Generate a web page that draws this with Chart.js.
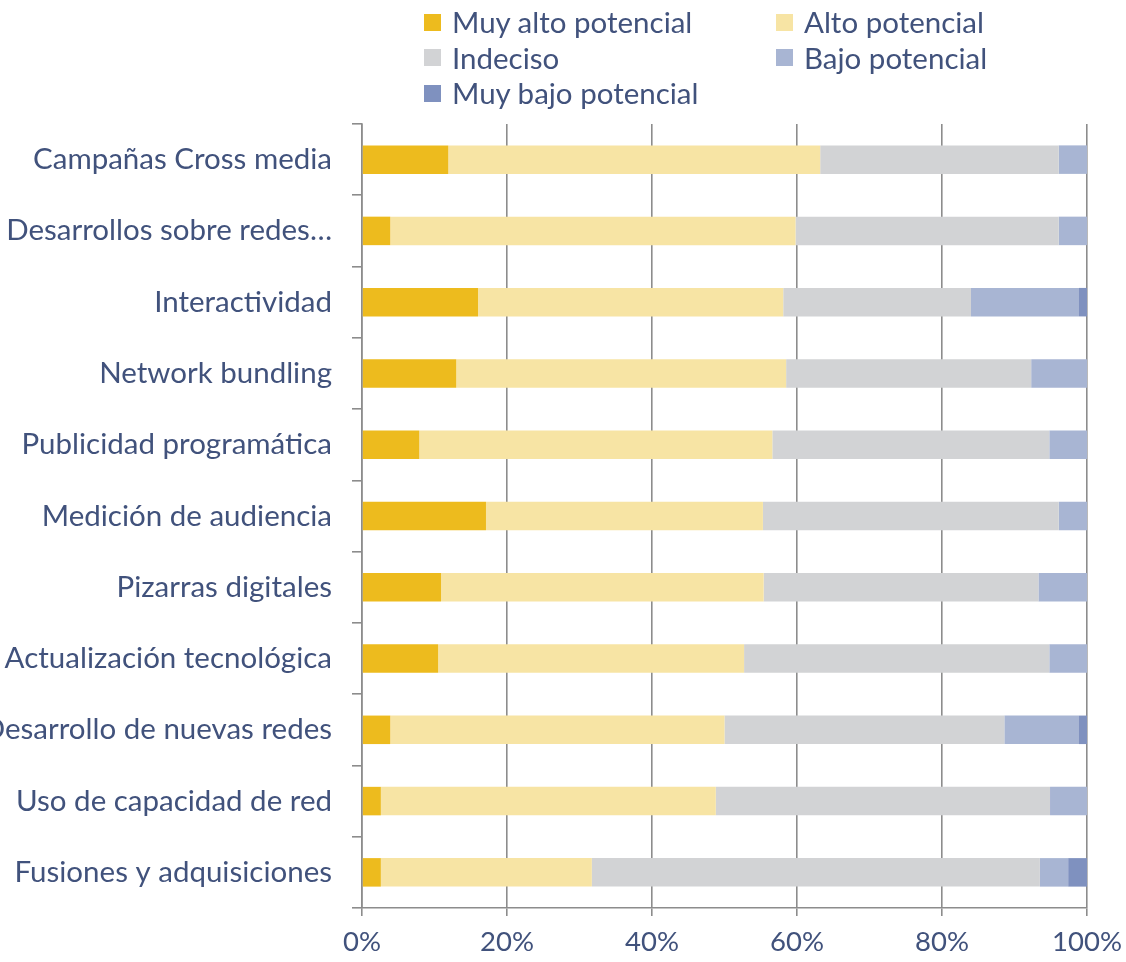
<!DOCTYPE html>
<html>
<head>
<meta charset="utf-8">
<script src="https://cdn.jsdelivr.net/npm/chart.js@4/dist/chart.umd.min.js"></script>
<style>
  html, body { margin: 0; padding: 0; background: #ffffff; }
  #wrap { position: relative; width: 1126px; height: 962px; overflow: hidden; }
  #chart { position: absolute; left: 0; top: 0; }
  .leg { position: absolute; display: flex; align-items: center; font-family: Lato, sans-serif; font-size: 29.5px; color: #41527c; white-space: nowrap; line-height: 1; }
  .leg .sw { width: 17px; height: 17px; margin-right: 11px; flex: none; }
</style>
</head>
<body>
<div id="wrap">
  <canvas id="chart" width="1126" height="962"></canvas>
  <div id="legend"></div>
</div>
<script>
const categories = [
  "Campañas Cross media",
  "Desarrollos sobre redes…",
  "Interactividad",
  "Network bundling",
  "Publicidad programática",
  "Medición de audiencia",
  "Pizarras digitales",
  "Actualización tecnológica",
  "Desarrollo de nuevas redes",
  "Uso de capacidad de red",
  "Fusiones y adquisiciones"
];
const seriesNames = ["Muy alto potencial", "Alto potencial", "Indeciso", "Bajo potencial", "Muy bajo potencial"];
const muyAlto  = [11.9,  3.9, 16.0, 13.0,  7.9, 17.1, 10.9, 10.5,  3.9,  2.6,  2.6];
const alto     = [51.3, 55.9, 42.1, 45.5, 48.7, 38.2, 44.5, 42.2, 46.1, 46.2, 29.1];
const indeciso = [32.9, 36.3, 25.9, 33.8, 38.2, 40.8, 37.9, 42.1, 38.6, 46.1, 61.8];
const bajo     = [ 3.9,  3.9, 14.9,  7.7,  5.2,  3.9,  6.7,  5.2, 10.3,  5.1,  3.9];
const muyBajo  = [ 0.0,  0.0,  1.1,  0.0,  0.0,  0.0,  0.0,  0.0,  1.1,  0.0,  2.6];
const xTicks = [0, 20, 40, 60, 80, 100];
const colors = ["#EDBB1E", "#F7E4A4", "#D2D3D5", "#A8B5D3", "#7F91BF"];

const seriesValues = [muyAlto, alto, indeciso, bajo, muyBajo];
const textColor = "#41527c";
const gridColor = "#8c8c8c";

const chart = new Chart(document.getElementById("chart"), {
  type: "bar",
  data: {
    labels: categories,
    datasets: seriesNames.map((name, i) => ({
      label: name,
      data: seriesValues[i],
      backgroundColor: colors[i],
      borderWidth: 0,
      categoryPercentage: 0.8,
      barPercentage: 0.5
    }))
  },
  options: {
    indexAxis: "y",
    responsive: false,
    animation: false,
    layout: { padding: { top: 124, right: 39, left: 0, bottom: 0 } },
    plugins: { legend: { display: false }, tooltip: { enabled: false } },
    scales: {
      x: {
        stacked: true,
        min: 0,
        max: 100,
        afterBuildTicks: (s) => { s.ticks = xTicks.map(v => ({ value: v })); },
        afterFit: (s) => { s.height = 54; s.paddingRight = 0; s.paddingLeft = 0; },
        ticks: {
          callback: (v) => v + "%",
          color: textColor,
          font: { family: "Lato", size: 27.5 },
          padding: 10,
          maxRotation: 0
        },
        grid: { color: gridColor, lineWidth: 1.6, tickLength: 8, drawOnChartArea: true },
        border: { color: gridColor, width: 1.6 }
      },
      y: {
        stacked: true,
        afterFit: (s) => { s.width = 362; s.paddingTop = 0; s.paddingBottom = 0; },
        ticks: {
          color: textColor,
          font: { family: "Lato", size: 29.5 },
          padding: 20,
          autoSkip: false
        },
        grid: { offset: true, drawOnChartArea: false, color: gridColor, lineWidth: 1.6, tickLength: 10 },
        border: { color: gridColor, width: 1.6 }
      }
    }
  }
});

// HTML legend built from the chart's datasets (two columns)
const legend = document.getElementById("legend");
chart.data.datasets.forEach((ds, i) => {
  const col = i % 2, row = Math.floor(i / 2);
  const el = document.createElement("div");
  el.className = "leg";
  el.style.left = (424 + col * 352) + "px";
  el.style.top = (8 + row * 35.5) + "px";
  el.style.height = "28px";
  const sw = document.createElement("span");
  sw.className = "sw";
  sw.style.background = ds.backgroundColor;
  const tx = document.createElement("span");
  tx.textContent = ds.label;
  el.appendChild(sw);
  el.appendChild(tx);
  legend.appendChild(el);
});
</script>
</body>
</html>
